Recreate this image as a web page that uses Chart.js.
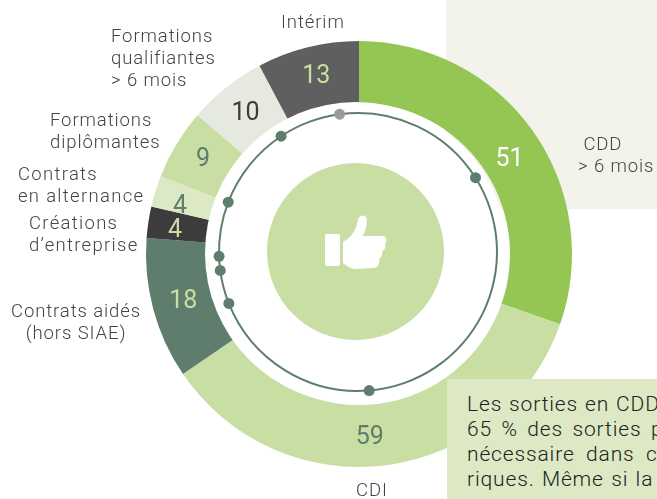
<!DOCTYPE html>
<html lang="fr">
<head>
<meta charset="utf-8">
<title>Sorties</title>
<script src="https://cdn.jsdelivr.net/npm/chart.js@4"></script>
<style>
html, body { margin: 0; padding: 0; background: #fff; }
#page { position: relative; width: 657px; height: 499px; overflow: hidden; font-family: Roboto, sans-serif; font-weight: 300; color: #3c3c3c; }
#page canvas { position: absolute; left: 0; top: 0; }
.box { position: absolute; }
#beige { left: 446px; top: 0; width: 211px; height: 209px; background: #f3f2eb; }
#note { left: 447px; top: 379px; width: 210px; height: 120px; background: #dde9c4; z-index: 5; overflow: hidden; }
#note div { position: absolute; left: 20px; white-space: nowrap; font-size: 21px; line-height: 25px; color: #222; letter-spacing: 0.85px; word-spacing: 1px; }
#hole { left: 205px; top: 102px; width: 302px; height: 302px; border-radius: 50%; background: #fff; }
#disc { left: 267px; top: 163px; width: 177px; height: 177px; border-radius: 50%; background: #c9dea3; }
#thumb { position: absolute; left: 325px; top: 215px; z-index: 4; }
.lab { position: absolute; font-size: 18.5px; line-height: 22px; letter-spacing: 0.9px; white-space: pre; z-index: 3; color: #444; }
.wide { letter-spacing: 1.3px; }
</style>
</head>
<body>
<div id="page">
  <div class="box" id="beige"></div>
  <canvas id="outerChart" width="657" height="499" style="width:657px;height:499px"></canvas>
  <div class="box" id="hole"></div>
  <div class="box" id="disc"></div>
  <canvas id="ringChart" width="657" height="499" style="width:657px;height:499px"></canvas>
  <svg id="thumb" width="62" height="55" viewBox="0 0 62 55">
    <path fill="#fff" d="M1 19 h12 q2 0 2 2 v28 q0 2 -2 2 h-12 q-1 0 -1 -2 v-29 q0 -1 1 -1 z"/>
    <path fill="#fff" d="M18 27 C24 24 31 17 33 5 C34 -1 42 -1 42 5 C42 11 40 16 38 21 L58 21 C62 21 62 27 60 29 C61 32 60 35 57 36 C58 40 56 43 54 44 C55 48 53 53 49 53 L31 54 C26 54 22 51 18 48 z"/>
  </svg>
  <div id="labels"></div>
  <div class="box" id="note"><div style="top:13px">Les sorties en CDD</div><div style="top:38px;word-spacing:3.5px">65 % des sorties p</div><div style="top:63px;word-spacing:5.5px">nécessaire dans ce</div><div style="top:88px;word-spacing:1.4px">riques. Même si la</div></div>
</div>
<script>
// カテゴリと値 (時計回り)
const categories = ['CDD > 6 mois', 'CDI', 'Contrats aidés (hors SIAE)', "Créations d'entreprise", 'Contrats en alternance', 'Formations diplômantes', 'Formations qualifiantes > 6 mois', 'Intérim']
const sorties = [51, 59, 18, 4, 4, 9, 10, 13]
const segmentColors = ['#95c552', '#c9dea3', '#5f7d6d', '#3c3c3c', '#dde9c4', '#c9dea3', '#e6e9df', '#5f5f5f']
const valueColors = ['#ffffff', '#5f7d6d', '#c9dea3', '#c9dea3', '#5f7d6d', '#5f7d6d', '#3c3c3c', '#c9dea3']
// 値ラベルの微調整 [dx, dy]
const valueNudge = [[2, 10], [-13, 2], [0, 0], [-4, 3], [-5, 5], [0, -1], [0, 1], [1, -2]]
// 内側のリング: 点と点の間隔 (度)
const ringSpans = [65.3, 117.7, 72.9, 14.1, 5.8, 22.8, 35.4, 26]
const ringStart = -7.6
const dotColors = ['#5f7d6d', '#5f7d6d', '#5f7d6d', '#5f7d6d', '#5f7d6d', '#5f7d6d', '#5f7d6d', '#9b9b9b']
// ラベル文字: [行, x, y, 揃え, 追加クラス]
const labelTexts = [
    [[' CDD', '> 6 mois'], 578, 133, 'left', ''],
    [['CDI'], 356, 479, 'left', ''],
    [['Contrats aidés', '(hors SIAE)'], 76, 300, 'center', ''],
    [['Créations', 'd’entreprise'], 29, 212, 'left', 'wide'],
    [['Contrats', 'en alternance'], 18, 163, 'left', 'wide'],
    [['Formations', 'diplômantes'], 50, 109, 'left', ''],
    [['Formations', 'qualifiantes', '> 6 mois'], 111, 25, 'left', ''],
    [['Intérim'], 281, 11, 'left', ''],
]

/*--------------------------------------------------------------------
ラベルを配置する関数
--------------------------------------------------------------------*/
function addLabels(){
    const box = document.getElementById('labels')
    labelTexts.forEach(function(item){
        const el = document.createElement('div')
        el.className = ('lab ' + item[4]).trim()
        el.innerHTML = item[0].map(function(s){ return s.replace('>', '&gt;') }).join('<br>')
        el.style.top = item[2] + 'px'
        el.style.left = item[1] + 'px'
        el.style.textAlign = item[3]
        if (item[3] == 'center'){
            el.style.transform = 'translateX(-50%)'
        }
        box.appendChild(el)
    })
}
addLabels()

// 各セグメントの中央に値を描くプラグイン
const valuePlugin = {
    id: 'valuePlugin',
    afterDatasetsDraw(chart){
        const ctx = chart.ctx
        chart.getDatasetMeta(0).data.forEach(function(arc, i){
            const pos = arc.tooltipPosition()
            ctx.save()
            ctx.font = '400 25px Roboto, sans-serif'
            ctx.fillStyle = valueColors[i]
            ctx.textAlign = 'center'
            ctx.textBaseline = 'middle'
            ctx.fillText(String(sorties[i]), pos.x + valueNudge[i][0], pos.y + 1 + valueNudge[i][1])
            ctx.restore()
        })
    }
}

// リングの区切りに点を描くプラグイン
const dotPlugin = {
    id: 'dotPlugin',
    afterDatasetsDraw(chart){
        const ctx = chart.ctx
        chart.getDatasetMeta(0).data.forEach(function(arc, i){
            const r = (arc.innerRadius + arc.outerRadius) / 2
            ctx.save()
            ctx.fillStyle = dotColors[i]
            ctx.beginPath()
            ctx.arc(arc.x + r * Math.cos(arc.endAngle), arc.y + r * Math.sin(arc.endAngle), 5.5, 0, Math.PI * 2)
            ctx.fill()
            ctx.restore()
        })
    }
}

new Chart(document.getElementById('outerChart'), {
    type: 'doughnut',
    data: {
        labels: categories,
        datasets: [{ data: sorties, backgroundColor: segmentColors, borderWidth: 0 }],
    },
    options: {
        responsive: false,
        animation: false,
        cutout: 151,
        layout: { padding: { left: 146, right: 85, top: 41, bottom: 32 } },
        plugins: { legend: { display: false }, tooltip: { enabled: false } },
    },
    plugins: [valuePlugin],
})

new Chart(document.getElementById('ringChart'), {
    type: 'doughnut',
    data: {
        labels: ringSpans.map(function(v, i){ return 'p' + i }),
        datasets: [{ data: ringSpans, backgroundColor: '#5f7d6d', borderWidth: 0 }],
    },
    options: {
        responsive: false,
        animation: false,
        rotation: ringStart,
        cutout: 138,
        layout: { padding: { left: 218, right: 159, top: 112, bottom: 107 } },
        plugins: { legend: { display: false }, tooltip: { enabled: false } },
    },
    plugins: [dotPlugin],
})
</script>
</body>
</html>
